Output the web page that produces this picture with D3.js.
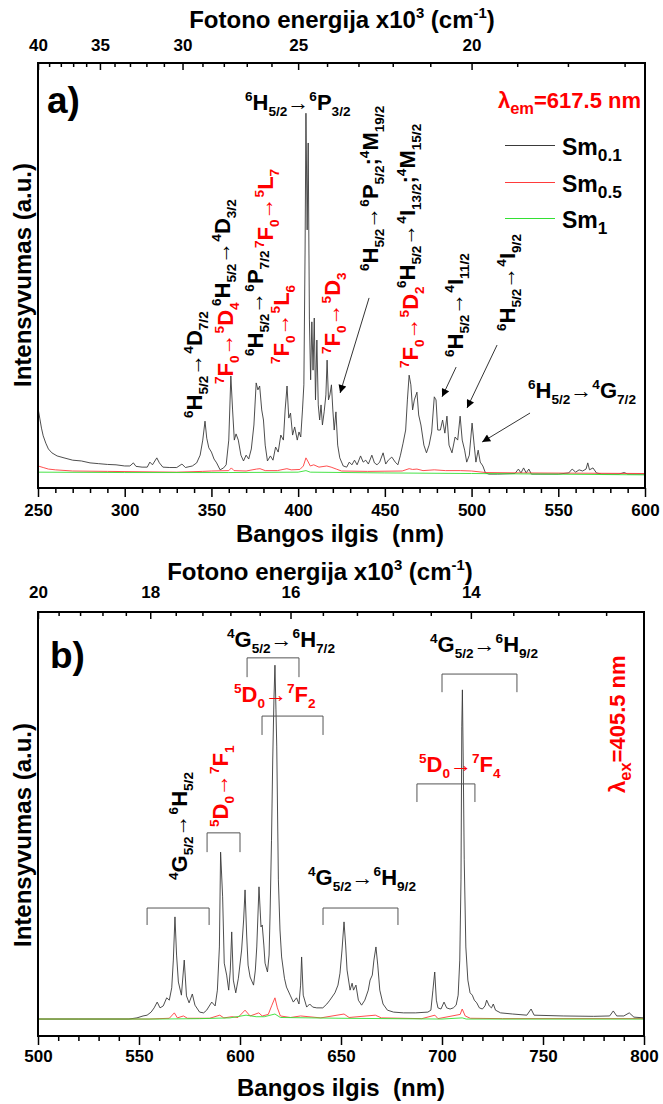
<!DOCTYPE html>
<html><head><meta charset="utf-8">
<script src="https://cdn.jsdelivr.net/npm/d3@7"></script>
<style>
html,body{margin:0;padding:0;background:#fff;}
svg{display:block;font-family:'Liberation Sans',Arial,sans-serif;}
text{white-space:pre;}
</style></head>
<body><svg id="c" width="663" height="1104"></svg>
<script>
// ---------------- DATA ----------------
// Panel a) excitation spectra, lambda_em = 617.5 nm  [wavelength nm, intensity a.u.]
const aSm01 = [[250,20.7],[251,18.1],[252,15.5],[253,13.5],[254.5,11.6],[256,10.1],[258,9.1],[261,8.3],[265,7.8],[270,7.2],[275,7.0],[280,6.5],[285,6.3],[290,6.1],[295,6.0],[300,5.7],[303,5.7],[305,6.5],[306.5,5.6],[310,5.4],[313,5.4],[314.5,6.7],[316,6.0],[318.5,7.8],[320,6.5],[322,5.4],[326,5.3],[330,5.3],[333,6.2],[335,5.3],[339,5.7],[341.5,6.5],[343.5,8.5],[345,12.4],[346.3,17.3],[347.3,12.9],[348.5,10.4],[350,9.3],[351.5,7.5],[353,6.5],[355,4.7],[357,5.2],[358.5,6.0],[360,12.4],[361.2,29.0],[362.2,20.2],[363.2,12.4],[364.2,14.0],[365.5,12.4],[367,8.5],[368.5,7.0],[370,8.5],[371.5,7.5],[373,10.1],[374.5,16.3],[375.8,27.2],[376.8,25.4],[377.8,26.4],[379,20.2],[380,17.6],[381,11.1],[382.3,7.0],[384,8.3],[385.5,7.2],[387,10.6],[388.5,9.3],[390,13.7],[391.5,12.4],[392.5,20.2],[393.6,26.4],[394.6,18.1],[395.6,19.4],[396.8,13.7],[398,15.8],[399.5,12.4],[400.5,14.5],[401.5,13.2],[402.5,20.2],[403.3,26.7],[404,61.6],[404.5,97.0],[405.2,66.8],[405.8,89.3],[406.5,43.5],[407.2,28.0],[407.9,43.0],[408.6,30.5],[409.3,44.0],[410,22.8],[410.8,38.3],[411.6,21.5],[412.4,17.6],[413.2,21.5],[414,16.3],[415,19.7],[416,24.1],[416.7,33.1],[417.5,22.8],[418.3,24.1],[419.2,26.7],[420,20.2],[420.8,15.0],[421.8,19.7],[422.8,11.1],[424,7.8],[426,5.7],[428,5.4],[429.5,6.7],[431,6.0],[432.5,7.2],[434,6.0],[436,8.3],[437.5,6.7],[439,7.2],[440.5,6.2],[442.5,8.5],[444,6.5],[445.5,6.0],[447,6.7],[449,9.1],[450.5,6.2],[452,7.2],[454,8.0],[456,6.7],[457.5,6.0],[459,8.5],[460.5,11.6],[462,15.0],[463,22.8],[464,29.2],[465,26.7],[466,20.2],[467,22.8],[468.5,24.8],[469.5,18.9],[470.8,16.3],[472.5,11.1],[474,9.1],[475.5,11.1],[477,14.5],[478.5,23.6],[479.5,22.8],[480.5,15.0],[482,15.0],[483.3,17.6],[484.6,14.2],[485.8,18.6],[487,11.1],[488.7,9.1],[490.5,13.2],[492,12.4],[493.4,18.6],[494.6,12.4],[496,9.8],[497.2,6.7],[498.7,8.5],[500.3,16.8],[501.5,11.1],[502.5,6.7],[503.8,9.8],[505,6.7],[506.5,5.7],[508,3.9],[510,3.6],[515,3.6],[525,3.75],[527,4.9],[528.5,3.9],[530,5.2],[531.5,3.9],[533,4.9],[534.5,3.6],[540,3.6],[550,3.6],[556,3.9],[558,4.9],[560,4.1],[562,4.7],[564,4.4],[566,4.9],[567,6.5],[568,4.7],[570,5.2],[572,3.9],[575,3.6],[585,3.6],[588,4.0],[590,3.6],[600,3.6]];
const aSm05 = [[250,5.7],[253,5.3],[256,4.9],[260,4.7],[270,4.4],[290,4.3],[330,4.1],[345,4.3],[350,4.4],[360,4.5],[361.5,5.2],[363,4.5],[370,4.4],[376,4.9],[378,5.0],[381,4.5],[388,4.5],[393.5,5.0],[396,4.7],[401,4.8],[403,5.7],[404.5,7.8],[405.5,7.0],[407,5.7],[409,6.0],[412,5.4],[416.5,5.7],[419,5.4],[422,4.9],[425,4.4],[440,4.3],[460,4.4],[464,5.0],[466,4.8],[468.5,4.9],[472,4.5],[478.5,4.7],[485,4.5],[493.5,4.5],[500,4.4],[508,4.0],[530,3.9],[600,3.75]];
const aSm1 = [[250,4.1],[300,4.0],[360,4.0],[400,4.1],[404.5,4.5],[407,4.1],[450,3.9],[500,3.75],[600,3.4]];

// Panel b) emission spectra, lambda_ex = 405.5 nm
const bSm01 = [[500,4.4],[520,4.4],[545,4.4],[549,4.7],[552,5.2],[554,5.4],[556,6.2],[557.5,7.3],[559,8.8],[560.4,7.3],[562,7.8],[563.7,9.9],[565,9.3],[566.2,12.5],[567,19.7],[567.8,30.9],[568.6,21.0],[569.5,14.0],[571,10.6],[572.4,19.7],[573.5,10.4],[574.8,8.6],[576.4,10.9],[577.7,8.0],[580,6.2],[582,6.0],[583.5,6.7],[586,8.8],[587.7,7.8],[588.8,11.9],[589.8,23.1],[590.4,47.7],[591.4,36.1],[592.2,18.9],[593.4,15.8],[594.4,11.9],[595.2,17.1],[595.9,27.0],[596.7,14.5],[597.9,11.2],[599.2,15.0],[600.8,22.3],[601.8,30.1],[602.5,37.9],[603.3,26.2],[604,18.4],[605,15.3],[606.7,13.2],[607.6,17.1],[608.3,23.1],[609.4,38.7],[610.4,28.3],[611,28.8],[611.8,23.6],[612.4,18.9],[613.6,16.6],[614.4,21.0],[614.9,31.9],[615.6,50.8],[616.2,71.6],[616.8,87.2],[617.3,96.2],[617.8,84.6],[618.2,75.0],[619,40.5],[619.8,27.5],[620.6,20.5],[622,15.0],[623,12.7],[625,10.4],[626.4,8.8],[628,9.9],[629.2,8.3],[630,13.2],[630.5,20.5],[631.3,10.6],[633,7.5],[634.5,8.3],[636,7.5],[638,7.3],[641,7.3],[643,8.3],[644.5,9.3],[647,11.2],[648.5,13.2],[649.5,16.3],[650.5,22.3],[651.5,29.6],[652.3,23.6],[653,17.1],[654.5,11.9],[655.5,13.7],[656.2,11.9],[657.4,13.2],[658.6,9.3],[660.2,8.0],[661.8,9.3],[663.5,11.9],[664.4,14.5],[665.5,15.8],[666.3,19.7],[667.3,23.1],[668.2,18.4],[669.2,11.9],[670.8,8.3],[673,6.7],[676,6.2],[681,6.0],[687,6.0],[693,6.2],[694.5,6.7],[695.5,11.9],[696.4,16.6],[697.2,9.3],[698,7.3],[699.5,7.0],[701,8.8],[702.3,7.3],[704,7.0],[705.6,7.3],[707,8.0],[708,10.6],[708.8,19.7],[709.4,40.5],[709.8,80.2],[710.1,89.8],[710.5,71.6],[711,45.7],[711.8,23.1],[712.8,14.5],[713.9,11.2],[715,10.6],[716,9.3],[717.2,8.6],[718.5,7.3],[720,7.0],[721.3,7.8],[722.1,9.3],[723.4,7.8],[724.5,7.3],[725.4,8.3],[726.5,6.7],[729,6.0],[735,5.7],[742,5.4],[744.1,7.0],[745.6,5.4],[760,5.2],[775,5.1],[783,5.2],[784.8,6.5],[786.5,5.2],[790,5.2],[792.7,6.0],[795,4.9],[800,4.7]];
const bSm05 = [[500,4.4],[555,4.4],[565,4.6],[567.5,6.0],[569,4.7],[572,5.2],[574,4.6],[585,4.6],[590,5.4],[592,4.7],[596,5.0],[599,4.8],[602.5,6.7],[605,5.2],[609.3,6.0],[611,5.2],[614,5.6],[615.8,8.0],[617.3,9.9],[618.5,7.3],[620,5.2],[625,4.8],[630,5.2],[640,4.7],[651.5,5.7],[654,4.8],[667,5.4],[670,4.7],[690,4.5],[696.5,5.4],[698,4.5],[709,5.6],[710,7.0],[711.5,5.2],[714,4.6],[730,4.5],[800,4.5]];
const bSm1 = [[500,4.4],[560,4.4],[580,4.5],[595,4.7],[603,5.4],[608,5.0],[612,5.0],[617.3,5.7],[620,4.8],[650,4.6],[700,4.4],[710,4.7],[712,4.4],[800,4.4]];

// Axis ticks
const aWaveTicks = d3.range(250, 601, 10);
const aWaveLabels = [250,300,350,400,450,500,550,600];
const aEnergyTicks = d3.range(17, 41, 1);          // x10^3 cm^-1
const aEnergyLabels = [40,35,30,25,20];
const bWaveTicks = d3.range(500, 801, 10);
const bWaveLabels = [500,550,600,650,700,750,800];
const bEnergyTicks = d3.range(0, 19).map(i => +(20 - 0.4*i).toFixed(1));
const bEnergyLabels = [20,18,16,14];

// Legend
const seriesNames = [["Sm","0.1"],["Sm","0.5"],["Sm","1"]];
const seriesColors = ["#3a3a3a","#ff3b3b","#33e033"];

// Annotation arrows in panel a: [from λ, from I, to λ, to I]
const aArrows = [[440.9,49.2,424.2,24.6],[491.1,31.3,483.0,23.6],[514.7,37.0,497.4,20.7],[533.7,19.4,506.1,11.9]];
// Brackets in panel b: [λ start, λ end, top level, leg bottom level]
const bBrackets = [[603.5,629.2,98.1,93.1],[610.9,641.1,83.0,78.1],[583.7,600,52.7,47.7],[554,584.7,33.2,28.8],[641.1,678.2,33.2,28.8],[700,737.1,93.9,89.2],[687.6,716.3,65.4,60.7]];

// ---------------- DRAW ----------------
const svg = d3.select('#c');
const FONT = "'Liberation Sans',Arial,sans-serif";
const RED = "#ff0000";

const xA = d3.scaleLinear().domain([250,600]).range([38,645]);
const yA = d3.scaleLinear().domain([0,110]).range([488,63]);
const xB = d3.scaleLinear().domain([500,800]).range([38,644]);
const yB = d3.scaleLinear().domain([0,110]).range([1036,612]);

const defs = svg.append('defs');
defs.append('clipPath').attr('id','clipA').append('rect').attr('x',38).attr('y',63).attr('width',607).attr('height',425);
defs.append('clipPath').attr('id','clipB').append('rect').attr('x',38).attr('y',612).attr('width',606).attr('height',424);
defs.append('marker').attr('id','ah').attr('viewBox','0 0 10 10').attr('refX',10).attr('refY',5)
  .attr('markerWidth',10).attr('markerHeight',8).attr('markerUnits','userSpaceOnUse').attr('orient','auto')
  .append('path').attr('d','M0,0 L10,5 L0,10 z').attr('fill','#000');

function rich(parent, x, y, spec, opt) {
  opt = opt || {};
  const size = opt.size || 22, color = opt.color || '#000', rot = opt.rot || 0;
  const t = parent.append('text')
    .attr('transform', `translate(${x},${y}) rotate(${rot})`)
    .attr('fill', color).attr('font-size', size).attr('font-weight', 'bold')
    .attr('text-anchor', opt.anchor || 'start').attr('font-family', FONT);
  let shift = 0;
  spec.split('|').forEach(tok => {
    let kind = 'n', txt = tok;
    if (tok[0] === '^') { kind = 'sup'; txt = tok.slice(1); }
    else if (tok[0] === '_') { kind = 'sub'; txt = tok.slice(1); }
    const target = kind === 'sup' ? -0.42*size : kind === 'sub' ? 0.28*size : 0;
    const ts = t.append('tspan').text(txt).attr('dy', (target - shift).toFixed(2));
    if (kind !== 'n') ts.attr('font-size', (size*(opt.sub || 0.62)).toFixed(1));
    if (txt === '→') ts.attr('font-weight', 'normal');
    shift = target;
  });
  return t;
}

function drawPanel(x, y, s01, s05, s1, clip) {
  const g = svg.append('g').attr('clip-path', `url(#${clip})`);
  const line = d3.line().x(d => x(d[0])).y(d => y(d[1]));
  [s01, s05, s1].forEach((s, i) => {
    g.append('path').datum(s).attr('d', line).attr('fill','none')
      .attr('stroke', seriesColors[i]).attr('stroke-width', 0.9);
  });
  const [x0,x1] = x.range(), [y0,y1] = y.range();
  svg.append('rect').attr('x',x0).attr('y',y1).attr('width',x1-x0).attr('height',y0-y1)
    .attr('fill','none').attr('stroke','#000').attr('stroke-width',2);
}

function styleAxis(sel, size) {
  sel.select('.domain').remove();
  sel.selectAll('line').attr('stroke','#000').attr('stroke-width',1.5);
  sel.selectAll('text').attr('font-family',FONT).attr('font-size',size||17).attr('font-weight','bold').attr('fill','#000');
}

function axesFor(x, y, waveTicks, waveLabels, eTicks, eLabels, botPad, topPad) {
  const yb = y.range()[0], yt = y.range()[1];
  svg.append('g').attr('transform',`translate(0,${yb})`)
    .call(d3.axisBottom(x).tickValues(waveTicks.filter(v => !waveLabels.includes(v))).tickSize(5).tickFormat(''))
    .call(styleAxis);
  svg.append('g').attr('transform',`translate(0,${yb})`)
    .call(d3.axisBottom(x).tickValues(waveLabels).tickSize(9).tickPadding(botPad).tickFormat(d3.format('d')))
    .call(styleAxis);
  const toW = e => 1e4 / e;
  svg.append('g').attr('transform',`translate(0,${yt})`)
    .call(d3.axisTop(x).tickValues(eTicks.filter(e => !eLabels.includes(e)).map(toW)).tickSize(-4).tickFormat(''))
    .call(styleAxis);
  svg.append('g').attr('transform',`translate(0,${yt})`)
    .call(d3.axisTop(x).tickValues(eLabels.map(toW)).tickSizeInner(-7).tickSizeOuter(0).tickPadding(topPad)
      .tickFormat(d => Math.round(1e4 / d)))
    .call(styleAxis);
}

// ---- Panel a ----
drawPanel(xA, yA, aSm01, aSm05, aSm1, 'clipA');
axesFor(xA, yA, aWaveTicks, aWaveLabels, aEnergyTicks, aEnergyLabels, 7, 12);

// ---- Panel b ----
drawPanel(xB, yB, bSm01, bSm05, bSm1, 'clipB');
axesFor(xB, yB, bWaveTicks, bWaveLabels, bEnergyTicks, bEnergyLabels, 5, 14);

// Axis titles
const T = svg.append('g').attr('font-family',FONT).attr('font-weight','bold').attr('fill','#000');
T.append('text').attr('x',340).attr('y',542).attr('text-anchor','middle').attr('font-size',24).text('Bangos ilgis  (nm)');
T.append('text').attr('x',341).attr('y',1096).attr('text-anchor','middle').attr('font-size',24).text('Bangos ilgis  (nm)');
rich(svg, 342, 28, 'Fotono energija x10|^3| (cm|^-1|)', {size:24, anchor:'middle'});
rich(svg, 320, 580, 'Fotono energija x10|^3| (cm|^-1|)', {size:24, anchor:'middle'});
T.append('text').attr('transform','translate(31,275) rotate(-90)').attr('text-anchor','middle').attr('font-size',24).text('Intensyvumas (a.u.)');
T.append('text').attr('transform','translate(31,835) rotate(-90)').attr('text-anchor','middle').attr('font-size',24).text('Intensyvumas (a.u.)');

// Panel letters
T.append('text').attr('x',47).attr('y',113).attr('font-size',37).text('a)');
T.append('text').attr('x',50).attr('y',668).attr('font-size',37).text('b)');

// Legend (panel a)
const legendY = [145.5, 182.5, 218.5];
seriesNames.forEach((n, i) => {
  const ly = legendY[i];
  svg.append('line').attr('x1',505).attr('x2',555).attr('y1',ly).attr('y2',ly)
    .attr('stroke', seriesColors[i]).attr('stroke-width',1);
  rich(svg, 562, ly + 9, n[0] + '|_' + n[1], {size:23, sub:0.75});
});

// Panel a annotations
rich(svg, 245, 110, '^6|H|_5/2|→|^6|P|_3/2');
rich(svg, 641, 108, 'λ|_em|=617.5 nm', {color:RED, anchor:'end', sub:0.75});
const rotA = [
  [202,418,'^6|H|_5/2|→|^4|D|_7/2','#000'],
  [233,384,'^7|F|_0|→|^5|D|_4',RED],
  [230,306,'^6|H|_5/2|→|^4|D|_3/2','#000'],
  [263,356,'^6|H|_5/2|→|^6|P|_7/2','#000'],
  [273,248,'^7|F|_0|→|^5|L|_7',RED],
  [289,364,'^7|F|_0|→|^5|L|_6',RED],
  [340,354,'^7|F|_0|→|^5|D|_3',RED],
  [378,271,'^6|H|_5/2|→|^6|P|_5/2|;|^4|M|_19/2','#000'],
  [418,368,'^7|F|_0|→|^5|D|_2',RED],
  [415,288,'^6|H|_5/2|→|^4|I|_13/2|;|^4|M|_15/2','#000'],
  [463,357,'^6|H|_5/2|→|^4|I|_11/2','#000'],
  [515,331,'^6|H|_5/2|→|^4|I|_9/2','#000']
];
rotA.forEach(r => rich(svg, r[0], r[1], r[2], {rot:-90, color:r[3]}));
rich(svg, 528, 398, '^6|H|_5/2|→|^4|G|_7/2');

aArrows.forEach(a => {
  svg.append('line').attr('x1',xA(a[0])).attr('y1',yA(a[1])).attr('x2',xA(a[2])).attr('y2',yA(a[3]))
    .attr('stroke','#000').attr('stroke-width',0.8).attr('marker-end','url(#ah)');
});

// Panel b annotations
bBrackets.forEach(b => {
  const xl = xB(b[0]), xr = xB(b[1]), yt = yB(b[2]), ybt = yB(b[3]);
  svg.append('path').attr('d',`M${xl},${ybt}V${yt}H${xr}V${ybt}`)
    .attr('fill','none').attr('stroke','#555').attr('stroke-width',1);
});
rich(svg, 227, 647, '^4|G|_5/2|→|^6|H|_7/2');
rich(svg, 234, 702, '^5|D|_0|→|^7|F|_2', {color:RED});
rich(svg, 187, 880, '^4|G|_5/2|→|^6|H|_5/2', {rot:-90});
rich(svg, 228, 827, '^5|D|_0|→|^7|F|_1', {rot:-90, color:RED});
rich(svg, 308, 885, '^4|G|_5/2|→|^6|H|_9/2');
rich(svg, 430, 652, '^4|G|_5/2|→|^6|H|_9/2');
rich(svg, 419, 772, '^5|D|_0|→|^7|F|_4', {color:RED});
rich(svg, 625, 793, 'λ|_ex|=405.5 nm', {rot:-90, color:RED, sub:0.75});
</script>
</body></html>
